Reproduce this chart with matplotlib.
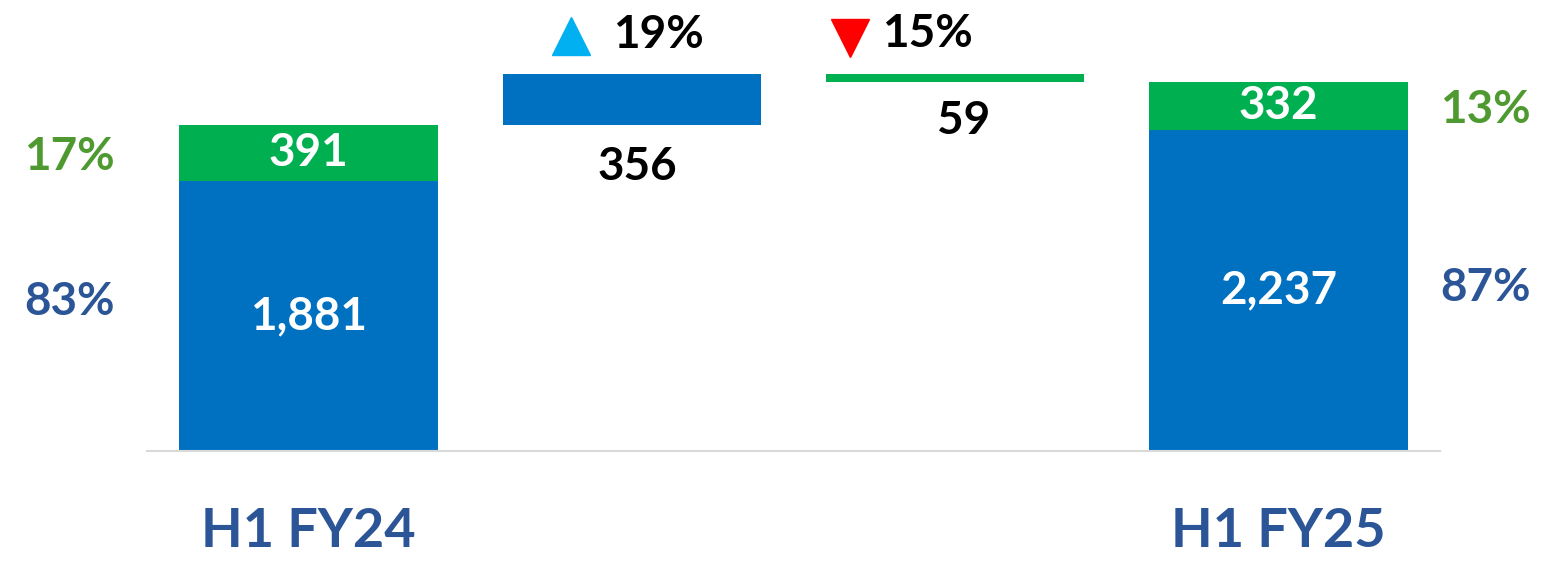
import matplotlib.pyplot as plt

plt.rcParams['font.family'] = ['Lato', 'DejaVu Sans']
plt.rcParams['font.weight'] = 'bold'

categories = ['H1 FY24', '', '', 'H1 FY25']
fy24_parts = [1881, 391]      # blue, green
fy25_parts = [2237, 332]
blue_change = 356
green_change = -59
fy24_share = ['83%', '17%']
fy25_share = ['87%', '13%']
change_pct = ['19%', '15%']

BLUE = '#0070C0'
GREEN = '#00B050'
DARK_BLUE = '#2B5597'
PCT_GREEN = '#4E9A31'

fig = plt.figure(figsize=(15.42, 5.63), dpi=100)
ax = fig.add_axes([0.0953, 0.199, 0.8385, 0.801])

x = range(len(categories))
w = 0.8
total24 = sum(fy24_parts)

# start and end columns
ax.bar(0, fy24_parts[0], w, color=BLUE)
ax.bar(0, fy24_parts[1], w, bottom=fy24_parts[0], color=GREEN)
ax.bar(3, fy25_parts[0], w, color=BLUE)
ax.bar(3, fy25_parts[1], w, bottom=fy25_parts[0], color=GREEN)

# floating steps
ax.bar(1, blue_change, w, bottom=total24, color=BLUE)
step2_top = total24 + blue_change
ax.bar(2, abs(green_change), w, bottom=step2_top + green_change, color=GREEN)

lbl = dict(fontsize=33, fontweight='bold', ha='center', va='center')

# values inside columns
ax.text(0, fy24_parts[0] / 2, f'{fy24_parts[0]:,}', color='white', **lbl)
ax.text(0, fy24_parts[0] + fy24_parts[1] / 2, f'{fy24_parts[1]:,}', color='white', **lbl)
ax.text(3, fy25_parts[0] / 2, f'{fy25_parts[0]:,}', color='white', **lbl)
ax.text(3, fy25_parts[0] + fy25_parts[1] / 2, f'{fy25_parts[1]:,}', color='white', **lbl)

# values below floating steps
ax.annotate(f'{blue_change:,}', (1, total24), xytext=(4, -30),
            textcoords='offset points', color='black', **lbl)
ax.annotate(f'{abs(green_change):,}', (2, step2_top + green_change), xytext=(6, -28),
            textcoords='offset points', color='black', **lbl)

# change percentages with arrows
ax.plot([1 - 0.187], [step2_top + 265], marker='^', markersize=27, color='#00B0F0',
        clip_on=False, linestyle='none')
ax.plot([2 - 0.326], [step2_top + 250], marker='v', markersize=27, color='#FF0000',
        clip_on=False, linestyle='none')
ax.text(1 - 0.057, step2_top + 270, change_pct[0], fontsize=33, fontweight='bold',
        ha='left', va='center', color='black')
ax.text(2 - 0.227, step2_top + 280, change_pct[1], fontsize=33, fontweight='bold',
        ha='left', va='center', color='black')

# share labels beside the end columns
ax.text(-0.739, fy24_parts[0] / 2 + 100, fy24_share[0], color=DARK_BLUE, clip_on=False, **lbl)
ax.text(-0.739, fy24_parts[0] + fy24_parts[1] / 2 - 30, fy24_share[1], color=PCT_GREEN, clip_on=False, **lbl)
ax.text(3.64, fy25_parts[0] / 2 + 15, fy25_share[0], color=DARK_BLUE, clip_on=False, **lbl)
ax.text(3.64, fy25_parts[0] + fy25_parts[1] / 2 - 30, fy25_share[1], color=PCT_GREEN, clip_on=False, **lbl)

ax.set_xlim(-0.5, 3.5)
ax.set_ylim(0, 3143)
ax.set_xticks(list(x))
ax.set_xticklabels(categories, fontsize=39, fontweight='bold', color=DARK_BLUE)
ax.tick_params(axis='x', length=0, pad=40)
ax.set_yticks([])
for s in ['top', 'right', 'left']:
    ax.spines[s].set_visible(False)
ax.spines['bottom'].set_color('#D9D9D9')
ax.spines['bottom'].set_linewidth(1.5)

fig.savefig('out.png', dpi=100)
